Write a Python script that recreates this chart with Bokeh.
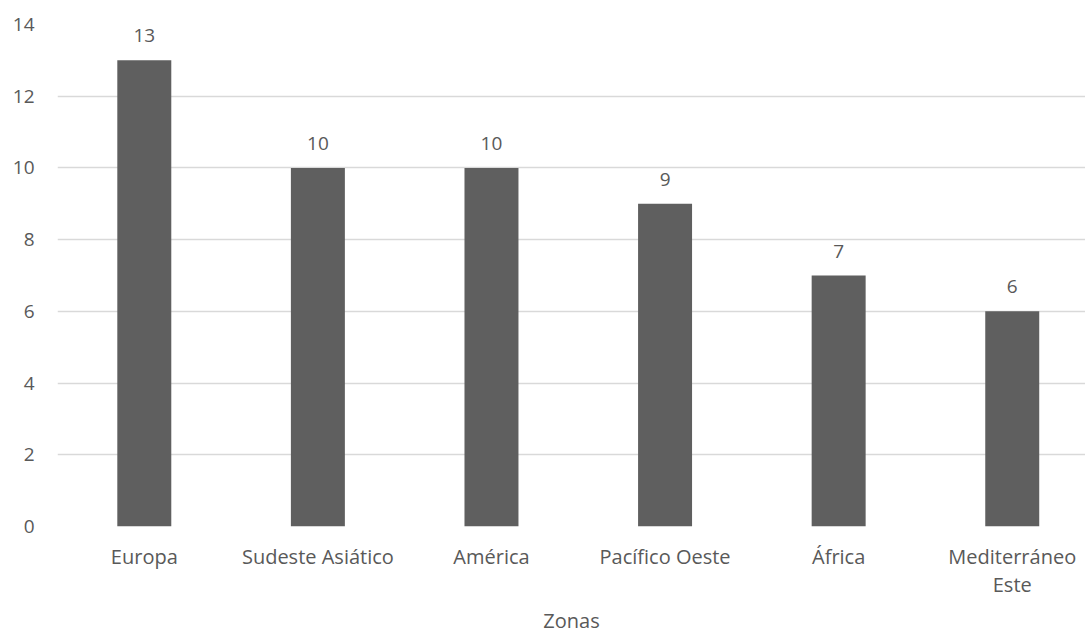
from bokeh.plotting import figure
from bokeh.models import ColumnDataSource, Range1d, FixedTicker, LabelSet
from bokeh.core.properties import value
from bokeh.embed import file_html
from bokeh.resources import INLINE

zonas = ["Europa", "Sudeste Asiático", "América", "Pacífico Oeste", "África", "Mediterráneo\nEste"]
valores = [13, 10, 10, 9, 7, 6]
y_ticks = [0, 2, 4, 6, 8, 10, 12, 14]
x_title = "Zonas"

FONT = "Open Sans"
TXT = "#595959"

pos = [i + 0.5 for i in range(len(zonas))]
src = ColumnDataSource(dict(x=pos, top=valores, lab=[str(v) for v in valores]))

p = figure(width=1085, height=636, output_backend="svg", toolbar_location=None,
           x_range=Range1d(0, 5.922), y_range=Range1d(0, 14),
           min_border_left=57, min_border_right=0, min_border_top=24, min_border_bottom=109)
p.outline_line_color = None
p.background_fill_color = "white"
p.border_fill_color = "white"

p.vbar(x="x", top="top", width=0.311, bottom=0, source=src, fill_color="#5f5f5f", line_color=None)

labels = LabelSet(x="x", y="top", text="lab", source=src, text_align="center",
                  text_baseline="alphabetic", y_offset=18, text_font=value(FONT),
                  text_font_size="19px", text_color=TXT)
p.add_layout(labels)

p.xgrid.grid_line_color = None
p.ygrid.grid_line_color = "#d9d9d9"
p.ygrid.grid_line_width = 1.5

p.yaxis.ticker = FixedTicker(ticks=y_ticks)
p.yaxis.axis_line_color = None
p.yaxis.major_tick_line_color = None
p.yaxis.minor_tick_line_color = None
p.yaxis.major_label_standoff = 17
p.yaxis.major_label_text_font = FONT
p.yaxis.major_label_text_font_size = "19px"
p.yaxis.major_label_text_color = TXT

p.xaxis.ticker = FixedTicker(ticks=pos)
p.xaxis.major_label_overrides = {x: z for x, z in zip(pos, zonas)}
p.xaxis.axis_line_color = None
p.xaxis.major_tick_line_color = None
p.xaxis.minor_tick_line_color = None
p.xaxis.major_label_standoff = 10
p.xaxis.major_label_text_font = FONT
p.xaxis.major_label_text_font_size = "20px"
p.xaxis.major_label_text_color = TXT
p.xaxis.major_label_text_line_height = 1.05
p.xaxis.axis_label = x_title
p.xaxis.axis_label_standoff = 6
p.xaxis.axis_label_text_font = FONT
p.xaxis.axis_label_text_font_size = "20px"
p.xaxis.axis_label_text_font_style = "normal"
p.xaxis.axis_label_text_color = TXT

open("out.html", "w").write(file_html(p, INLINE))
